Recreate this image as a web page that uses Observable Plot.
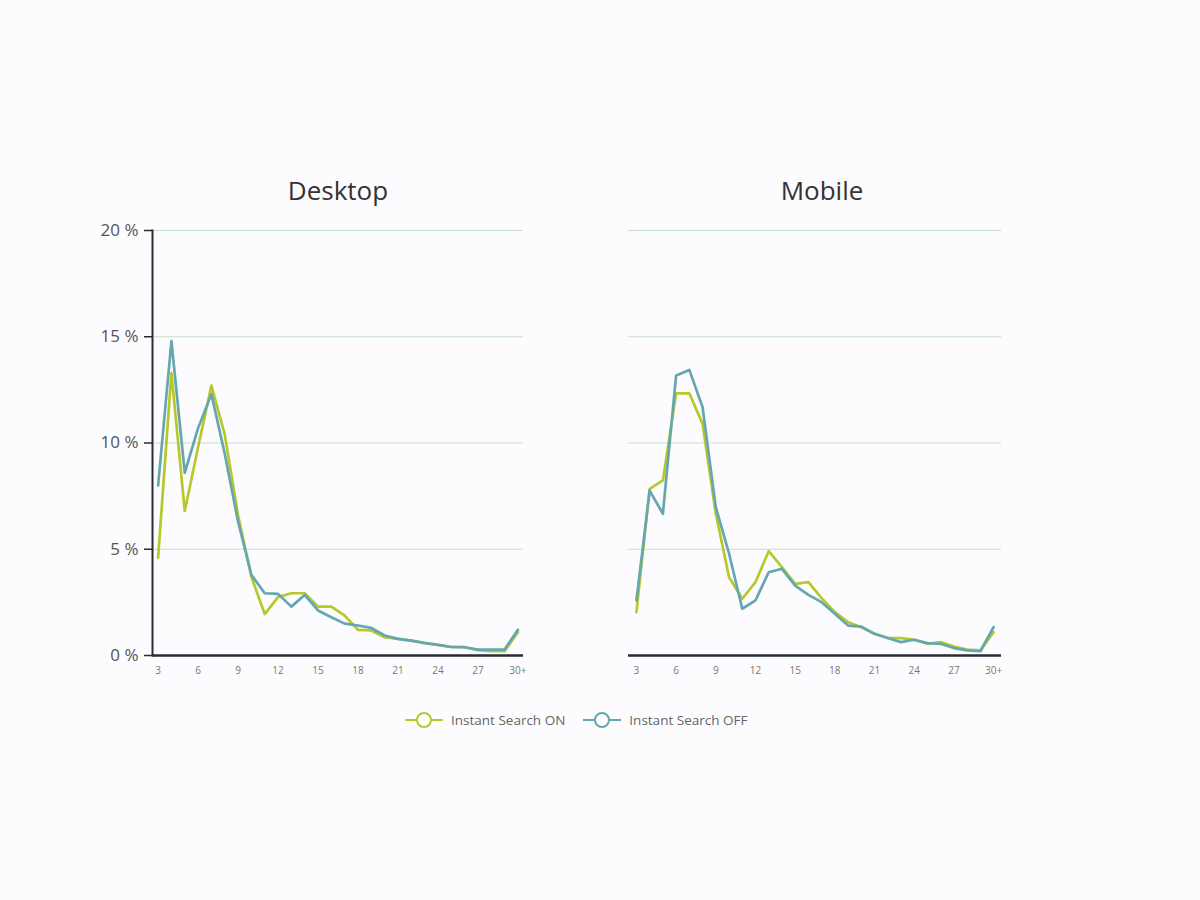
<!DOCTYPE html>
<html>
<head>
<meta charset="utf-8">
<script src="https://cdn.jsdelivr.net/npm/d3@7"></script>
<script src="https://cdn.jsdelivr.net/npm/@observablehq/plot@0.6"></script>
<style>
  html, body { margin: 0; padding: 0; background: #fcfcfe; }
  #page { position: relative; width: 1200px; height: 900px; font-family: "Open Sans", sans-serif; overflow: hidden; background: #fcfcfe; }
  .title { position: absolute; font-size: 26px; line-height: 26px; color: #333; text-align: center; width: 300px; }
  .plot { position: absolute; }
  #legend { position: absolute; left: 405px; top: 710px; display: flex; align-items: center; font-size: 13.5px; color: #666; }
  #legend .item { display: flex; align-items: center; }
  #legend svg { display: block; }
</style>
</head>
<body>
<div id="page">
  <div class="title" style="left:188px; top:177px;">Desktop</div>
  <div class="title" style="left:672px; top:177px;">Mobile</div>
  <div class="plot" id="desktop" style="left:0px; top:210px;"></div>
  <div class="plot" id="mobile" style="left:476px; top:210px;"></div>
  <div id="legend"></div>
</div>
<script>
const categories = ["3","4","5","6","7","8","9","10","11","12","13","14","15","16","17","18","19","20","21","22","23","24","25","26","27","28","29","30+"];
const tickLabels = ["3","6","9","12","15","18","21","24","27","30+"];
const yTicks = [0, 5, 10, 15, 20];
const seriesNames = ["Instant Search ON", "Instant Search OFF"];
const seriesColors = ["#b7c82b", "#66a6b1"];

const desktopOn  = [4.6, 13.3, 6.8, 9.8, 12.7, 10.4, 6.6, 3.7, 1.95, 2.75, 2.93, 2.93, 2.3, 2.3, 1.88, 1.21, 1.18, 0.86, 0.78, 0.7, 0.6, 0.5, 0.4, 0.39, 0.25, 0.2, 0.2, 1.1];
const desktopOff = [8.0, 14.8, 8.6, 10.7, 12.3, 9.5, 6.3, 3.8, 2.93, 2.9, 2.3, 2.85, 2.12, 1.8, 1.5, 1.41, 1.3, 0.94, 0.78, 0.7, 0.58, 0.5, 0.4, 0.39, 0.28, 0.28, 0.28, 1.21];
const mobileOn   = [2.04, 7.84, 8.24, 12.34, 12.34, 10.9, 6.67, 3.69, 2.67, 3.45, 4.91, 4.16, 3.37, 3.45, 2.7, 2.04, 1.57, 1.33, 1.02, 0.82, 0.82, 0.74, 0.55, 0.63, 0.42, 0.28, 0.24, 1.1];
const mobileOff  = [2.59, 7.76, 6.67, 13.18, 13.44, 11.69, 6.98, 4.8, 2.2, 2.59, 3.92, 4.08, 3.29, 2.85, 2.51, 1.96, 1.41, 1.36, 1.02, 0.82, 0.63, 0.74, 0.58, 0.55, 0.35, 0.24, 0.2, 1.33];

function toRows(vals) { return categories.map((c, i) => ({cat: c, v: vals[i]})); }

function chart(onVals, offVals, showY, padding, marginRight) {
  const marks = [
    Plot.gridY([5, 10, 15, 20], {stroke: "#c6dfc9", strokeOpacity: 1, strokeWidth: 1}),
    Plot.axisX({ticks: tickLabels, tickSize: 0, tickPadding: 11, fontSize: 10, fill: "#777", stroke: "none", label: null}),
    Plot.ruleY([0], {stroke: "#2b2b33", strokeWidth: 2.5}),
    Plot.line(toRows(onVals), {x: "cat", y: "v", stroke: seriesColors[0], strokeWidth: 2.7}),
    Plot.line(toRows(offVals), {x: "cat", y: "v", stroke: seriesColors[1], strokeWidth: 2.7})
  ];
  if (showY) {
    marks.splice(1, 0,
      Plot.axisY({ticks: yTicks, tickFormat: d => `${d} %`, tickSize: 8, tickPadding: 6, fontSize: 17, stroke: "#2b2b33", fill: "#555", strokeWidth: 1.5, label: null}),
      Plot.frame({anchor: "left", stroke: "#2b2b33", strokeWidth: 2})
    );
  }
  return Plot.plot({
    width: 540,
    height: 480,
    marginLeft: 152,
    marginRight: marginRight,
    marginTop: 20,
    marginBottom: 35,
    style: {fontFamily: "Open Sans, sans-serif", background: "transparent"},
    x: {type: "point", domain: categories, padding: padding, round: false, axis: null, label: null},
    y: {domain: [0, 20], axis: null, label: null},
    marks
  });
}

document.getElementById("desktop").append(chart(desktopOn, desktopOff, true, 0.42, 17));
document.getElementById("mobile").append(chart(mobileOn, mobileOff, false, 0.6, 15));

const legend = document.getElementById("legend");
seriesNames.forEach((name, i) => {
  const item = document.createElement("div");
  item.className = "item";
  item.style.marginRight = i === 0 ? "18px" : "0";
  item.innerHTML = `<svg width="38" height="20"><line x1="0" y1="10" x2="38" y2="10" stroke="${seriesColors[i]}" stroke-width="2"/><circle cx="19" cy="10" r="7" fill="#fff" stroke="${seriesColors[i]}" stroke-width="2"/></svg><span style="margin-left:8px">${name}</span>`;
  legend.append(item);
});
</script>
</body>
</html>
